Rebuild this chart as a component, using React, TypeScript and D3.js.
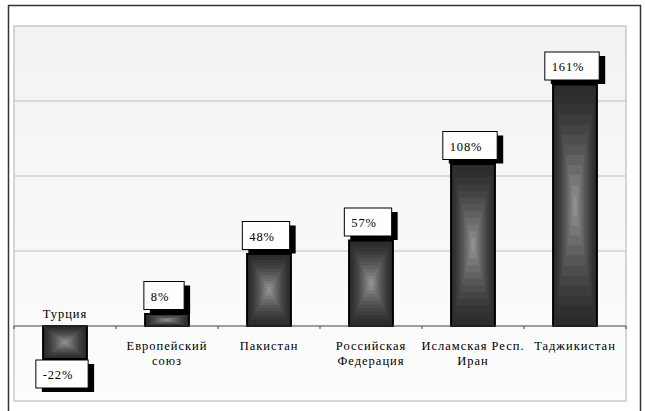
import React, { useEffect, useRef } from "react";
import * as d3 from "d3";

// ── Данные ──────────────────────────────────────────────────────────────
const categories = [
    "Турция",
    "Европейский союз",
    "Пакистан",
    "Российская Федерация",
    "Исламская Респ. Иран",
    "Таджикистан",
];
const categoryLines = [
    ["Турция"],
    ["Европейский", "союз"],
    ["Пакистан"],
    ["Российская", "Федерация"],
    ["Исламская Респ.", "Иран"],
    ["Таджикистан"],
];
const values = [-22, 8, 48, 57, 108, 161];
const gridTicks = [50, 100, 150];

const FONT = "Liberation Serif, Times New Roman, serif";

const App: React.FC = () => {
    const svgRef = useRef<SVGSVGElement | null>(null);

    useEffect(() => {
        if (!svgRef.current) return;
        const WIDTH = 645;
        const HEIGHT = 411;
        const PLOT = { left: 14, right: 626, top: 26, bottom: 401 };

        const root = d3.select(svgRef.current);
        root.selectAll("*").remove();
        root.attr("width", WIDTH).attr("height", HEIGHT).attr("viewBox", `0 0 ${WIDTH} ${HEIGHT}`);

        const defs = root.append("defs");
        const bg = defs.append("linearGradient").attr("id", "plot-bg")
            .attr("x1", "0%").attr("y1", "0%").attr("x2", "0%").attr("y2", "100%");
        bg.append("stop").attr("offset", "0%").attr("stop-color", "#f2f2f2");
        bg.append("stop").attr("offset", "100%").attr("stop-color", "#fdfdfd");

        // ── Рамка диаграммы ────────────────────────────────────────────────
        root.append("rect").attr("width", WIDTH).attr("height", HEIGHT).attr("fill", "#fff");
        root.append("rect")
            .attr("x", 8.5).attr("y", 5.5).attr("width", 632).attr("height", 430)
            .attr("fill", "#fff").attr("stroke", "#333").attr("stroke-width", 1.5);

        // ── Шкалы ──────────────────────────────────────────────────────────
        const x = d3.scaleBand<string>()
            .domain(categories)
            .range([PLOT.left, PLOT.right])
            .paddingInner(0.57)
            .paddingOuter(0.285);
        const step = x.step();
        const y = d3.scaleLinear().domain([-50, 200]).range([PLOT.bottom, PLOT.top]);
        const y0 = y(0);

        // ── Область построения ─────────────────────────────────────────────
        root.append("rect")
            .attr("x", PLOT.left).attr("y", PLOT.top)
            .attr("width", PLOT.right - PLOT.left).attr("height", PLOT.bottom - PLOT.top)
            .attr("fill", "url(#plot-bg)").attr("stroke", "#c8c8c8").attr("stroke-width", 1.5);

        root.append("g").selectAll("line").data(gridTicks).enter().append("line")
            .attr("x1", PLOT.left).attr("x2", PLOT.right)
            .attr("y1", (d) => y(d)).attr("y2", (d) => y(d))
            .attr("stroke", "#d2d2d2").attr("stroke-width", 1.5);

        // ── Столбцы (градиент «от центра» вложенными прямоугольниками) ─────
        const N = 12;
        const shade = d3.interpolateRgb("#2c2c2c", "#9c9c9c");
        const bars = root.append("g");
        categories.forEach((c, i) => {
            const v = values[i];
            const bx = x(c)!;
            const bw = x.bandwidth();
            const by = Math.min(y(v), y0);
            const bh = Math.abs(y(v) - y0);
            const g = bars.append("g");
            d3.range(N).forEach((k) => {
                const t = k / N;
                g.append("rect")
                    .attr("x", bx + (t * bw) / 2).attr("y", by + (t * bh) / 2)
                    .attr("width", bw * (1 - t)).attr("height", bh * (1 - t))
                    .attr("fill", shade(Math.pow(t, 1.4)));
            });
            g.append("rect")
                .attr("x", bx).attr("y", by).attr("width", bw).attr("height", bh)
                .attr("fill", "none").attr("stroke", "#000").attr("stroke-width", 2);
        });

        // ── Ось X ──────────────────────────────────────────────────────────
        const axis = root.append("g");
        axis.append("line")
            .attr("x1", PLOT.left).attr("x2", PLOT.right).attr("y1", y0).attr("y2", y0)
            .attr("stroke", "#404040").attr("stroke-width", 1);
        axis.selectAll("line.tick").data(d3.range(categories.length + 1)).enter().append("line")
            .attr("class", "tick")
            .attr("x1", (d) => PLOT.left + d * step).attr("x2", (d) => PLOT.left + d * step)
            .attr("y1", y0).attr("y2", y0 + 3)
            .attr("stroke", "#404040").attr("stroke-width", 1);

        // ── Подписи категорий ──────────────────────────────────────────────
        categories.forEach((c, i) => {
            const cx = x(c)! + x.bandwidth() / 2;
            const neg = values[i] < 0;
            categoryLines[i].forEach((line, j) => {
                root.append("text")
                    .attr("x", cx)
                    .attr("y", neg ? 318 : 350 + j * 15)
                    .attr("text-anchor", "middle")
                    .style("font-family", FONT).style("font-size", "12.5px")
                    .attr("letter-spacing", 1)
                    .attr("fill", "#000")
                    .text(line);
            });
        });

        // ── Подписи данных ─────────────────────────────────────────────────
        const BOX_H = 28;
        const SH = { dx: 6, dy: 4 };
        categories.forEach((c, i) => {
            const v = values[i];
            const cx = x(c)! + x.bandwidth() / 2;
            const g = root.append("g");
            const shadow = g.append("rect").attr("fill", "#000");
            const box = g.append("rect").attr("fill", "#fff").attr("stroke", "#000").attr("stroke-width", 1);
            const txt = g.append("text")
                .style("font-family", FONT).style("font-size", "12.5px").attr("letter-spacing", 0.8)
                .attr("fill", "#000")
                .text(`${v}%`);
            const tw = (txt.node() as SVGTextElement).getComputedTextLength();
            const bw = tw + 22;
            const left = cx - (bw + SH.dx) / 2;
            const top = v < 0 ? y(v) + 1 : y(v) - 4.5 - BOX_H;
            shadow.attr("x", left + SH.dx).attr("y", top + SH.dy).attr("width", bw).attr("height", BOX_H);
            box.attr("x", left).attr("y", top).attr("width", bw).attr("height", BOX_H);
            txt.attr("x", left + 7).attr("y", top + 19);
        });
    }, []);

    return (
        <div style={{ position: "absolute", left: 0, top: 0, width: 645, height: 411, overflow: "hidden" }}>
            <svg ref={svgRef} style={{ display: "block" }} />
        </div>
    );
};

export default App;
